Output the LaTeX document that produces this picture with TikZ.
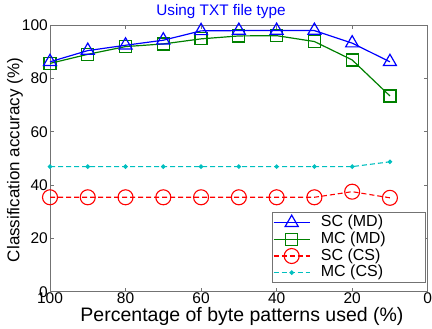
\documentclass[tikz,border=0pt]{standalone}
\usepackage{fontspec}
\setmainfont{Liberation Sans}
\usetikzlibrary{plotmarks}
\definecolor{mblue}{rgb}{0,0,1}
\definecolor{mgreen}{rgb}{0,0.5,0}
\definecolor{mred}{rgb}{1,0,0}
\definecolor{mcyan}{rgb}{0,0.75,0.75}
\definecolor{axgray}{gray}{0.45}
\tikzset{
    SCMD/.style ={mblue, line width=1.2pt, mark=triangle, mark size=7.5pt, mark options={solid}},
    MCMD/.style ={mgreen, line width=1.2pt, mark=square, mark size=6pt, mark options={solid}},
    SCCS/.style ={mred, line width=1.1pt, dash pattern=on 5pt off 3pt, mark=o, mark size=7.5pt, mark options={solid}},
    MCCS/.style ={mcyan, line width=1.1pt, dash pattern=on 5pt off 3pt, mark=*, mark size=1.7pt, mark options={solid}},
    BX/.style ={draw=axgray, line width=0.6pt},
    TL/.style ={font=\fontsize{15.5}{15}\selectfont, inner sep=2pt},
    LG/.style ={font=\fontsize{16}{16}\selectfont, anchor=west, inner sep=0pt}}
\begin{document}
\begin{tikzpicture}
    \useasboundingbox (0pt,0pt) rectangle (432pt,329pt);
    \begin{scope}[shift={(427.7pt,37.3pt)}, x=-3.777pt, y=2.667pt]
        \draw[BX] (0,0) rectangle (100,100);
        \foreach \v in {0,20,...,100}{
            \draw[BX] (\v,0) -- ++(0,1.5) (\v,100) -- ++(0,-1.5);
            \draw[BX] (100,\v) -- ++(-1.1,0) (0,\v) -- ++(1.1,0);
            \node[TL, anchor=north, inner sep=1pt] (xt\v) at (\v,0) {\v};
            \node[TL, anchor=east] (yt\v) at (100,\v) {\v};
        }
        \draw[MCCS] plot coordinates {(100,46.9) (90,46.9) (80,46.9) (70,46.9) (60,46.9)
            (50,46.9) (40,46.9) (30,46.9) (20,46.9) (10,48.7)};
        \draw[SCCS] plot coordinates {(100,35.4) (90,35.4) (80,35.4) (70,35.4) (60,35.4)
            (50,35.4) (40,35.4) (30,35.4) (20,37.5) (10,35.2)};
        \draw[MCMD] plot coordinates {(100,85.6) (90,89) (80,91.9) (70,92.9) (60,94.8)
            (50,95.9) (40,96) (30,93.8) (20,86.9) (10,73.4)};
        \draw[SCMD] plot coordinates {(100,86.2) (90,90.4) (80,92.4) (70,94.3) (60,97.8)
            (50,97.9) (40,97.9) (30,97.9) (20,93.2) (10,86.2)};
    \end{scope}
    \node[text=mblue, font=\fontsize{15.3}{15}\selectfont] (ttl) at (221pt,317pt) {Using TXT file type};
    \node[font=\fontsize{19.5}{19}\selectfont] (xlab) at (242pt,13pt) {Percentage of byte patterns used (\%)};
    \node[rotate=90, font=\fontsize{17}{17}\selectfont] (ylab) at (15pt,169pt) {Classification accuracy (\%)};
    \draw[BX, fill=white] (272.3pt,46.3pt) rectangle (425.7pt,116.7pt);
    \foreach \st/\txt [count=\i] in {SCMD/SC (MD), MCMD/MC (MD), SCCS/SC (CS), MCCS/MC (CS)}{
        \coordinate (la\i) at (273.5pt,{(123-16.67*\i)*1pt});
        \coordinate (lm\i) at (291.7pt,{(123-16.67*\i)*1pt});
        \coordinate (lb\i) at (310pt,{(123-16.67*\i)*1pt});
        \draw[\st] (la\i) -- (lb\i);
        \draw[\st] plot coordinates {(lm\i)};
        \node[LG] (lt\i) at (320.7pt,{(123-16.67*\i)*1pt}) {\txt};
    }
\end{tikzpicture}
\end{document}
